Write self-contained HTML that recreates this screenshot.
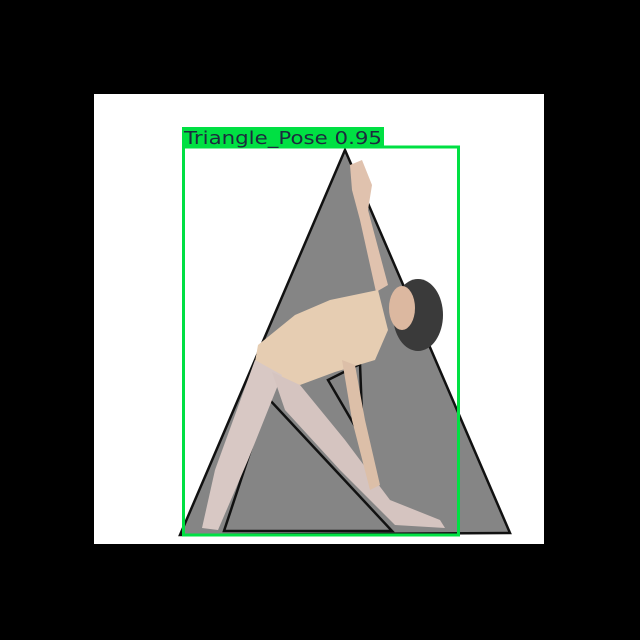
<!DOCTYPE html>
<html><head><meta charset="utf-8"><style>
html,body{margin:0;padding:0;background:#000;}
svg{display:block;}
</style></head><body>
<svg width="640" height="640" viewBox="0 0 640 640" xmlns="http://www.w3.org/2000/svg">
<rect x="0" y="0" width="640" height="640" fill="#000"/>
<rect x="94" y="94" width="450" height="450" fill="#fff"/>
<polygon points="345,150 180,535 510,533" fill="#858585" stroke="#111" stroke-width="2.5"/>
<polygon points="268,398 224,531 392,531" fill="#858585" stroke="#111" stroke-width="2.5"/>
<polygon points="328,380 360,364 363,440" fill="#858585" stroke="#111" stroke-width="2.5"/>
<g>
<path d="M350,165 L362,160 L372,185 L368,210 L388,285 L376,292 L360,220 L352,190 Z" fill="#e0c2ae"/>
<path d="M258,345 L295,315 L330,300 L378,290 L388,330 L375,360 L335,372 L300,385 L272,378 L255,362 Z" fill="#e6cdb2"/>
<ellipse cx="418" cy="315" rx="25" ry="36" fill="#3a3a3a"/>
<ellipse cx="402" cy="308" rx="13" ry="22" fill="#dcb8a0"/>
<path d="M255,360 L282,375 L248,460 L218,530 L202,528 L215,470 Z" fill="#d8c8c4"/>
<path d="M272,372 L300,385 L345,440 L390,500 L440,520 L445,528 L395,525 L340,470 L285,410 Z" fill="#d5c4c0"/>
<path d="M342,360 L355,365 L365,420 L380,485 L370,490 L352,420 Z" fill="#dcbfa8"/>
</g>
<rect x="183.5" y="147" width="275" height="388" fill="none" stroke="#00e043" stroke-width="3"/>
<rect x="182" y="127" width="202" height="20" fill="#00e043"/>
<text x="184" y="144" font-family="'DejaVu Sans', sans-serif" font-size="18" fill="#1c2a3e" textLength="198" lengthAdjust="spacingAndGlyphs">Triangle_Pose  0.95</text>
</svg>
</body></html>
